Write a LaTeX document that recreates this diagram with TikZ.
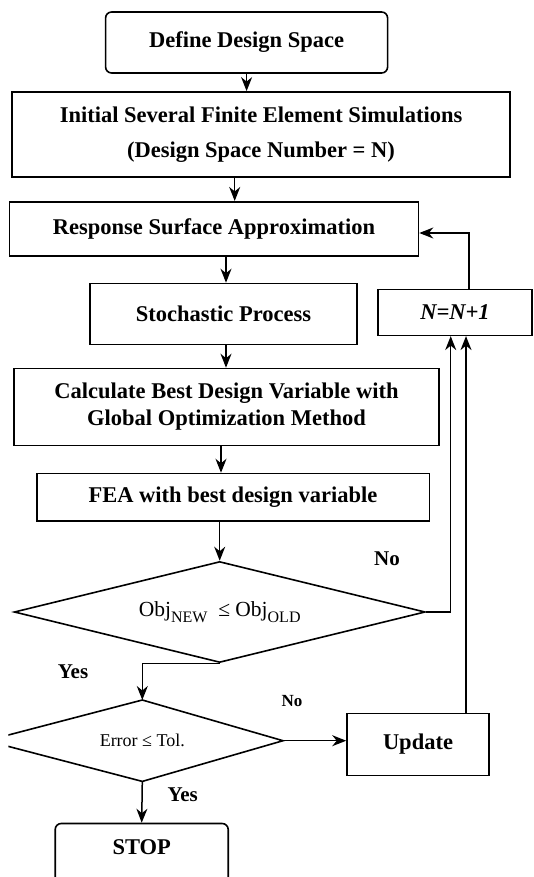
\documentclass[tikz,border=0pt]{standalone}
\usepackage{fontspec}
\setmainfont{Liberation Serif}
\usetikzlibrary{arrows.meta,shapes.geometric}
\newcommand\subtxt[1]{\raisebox{-6pt}{\fontsize{16}{16}\selectfont #1}}
\begin{document}
\begin{tikzpicture}[x=1pt,y=-1pt,
  box/.style={draw,line width=1.6pt,inner sep=0pt,align=center,font=\fontsize{22.5}{27}\selectfont\bfseries},
  rbox/.style={box,rounded corners=6pt},
  dia/.style={diamond,inner sep=0pt,aspect=4},
  arr/.style={line width=1.5pt,-{Stealth[length=14pt,width=11pt,inset=4.5pt]}},
  lab/.style={font=\fontsize{21}{25}\selectfont\bfseries,inner sep=0pt}]
\useasboundingbox (0,0) rectangle (533,877);
% boxes
\node[rbox,minimum width=282pt,minimum height=61pt] (def) at (246.6,42.5) {Define Design Space};
\node[box,minimum width=498pt,minimum height=85pt] (init) at (261,134.4) {Initial Several Finite Element Simulations\\[8pt](Design Space Number = N)};
\node[box,minimum width=409pt,minimum height=54.5pt] (rsa) at (214,229) {Response Surface Approximation};
\node[box,minimum width=267pt,minimum height=61pt] (sto) at (223.5,314) {Stochastic Process};
\node[box,minimum width=154pt,minimum height=46pt,font=\fontsize{22.5}{27}\selectfont\bfseries\itshape] (nn) at (455,312.3) {N=N+1};
\node[box,minimum width=424.5pt,minimum height=77pt] (calc) at (226.5,407) {Calculate Best Design Variable with\\Global Optimization Method};
\node[box,minimum width=392.6pt,minimum height=47.7pt] (fea) at (233,497.4) {FEA with best design variable};
\node[dia,draw,line width=1.6pt,minimum width=411pt,minimum height=101pt,font=\fontsize{21.5}{25}\selectfont] (d1) at (219.7,612) {Obj\subtxt{NEW}\ \ ≤ Obj\subtxt{OLD}};
\node[dia,minimum width=281pt,minimum height=81pt,font=\fontsize{18}{22}\selectfont] (d2) at (142.3,740.7) {Error ≤ Tol.};
\begin{scope}
\clip (8.3,650) rectangle (400,800);
\draw[line width=1.6pt] (d2.north) -- (d2.east) -- (d2.south) -- ([xshift=-15pt]d2.west) -- cycle;
\end{scope}
\node[box,minimum width=142pt,minimum height=62pt] (upd) at (418,744.5) {Update};
\node[rbox,minimum width=173pt,minimum height=110pt,anchor=north] (stop) at (141.7,822.7) {};
\node[font=\fontsize{22.5}{27}\selectfont\bfseries,inner sep=0pt] (stoptxt) at (141.7,847.3) {STOP};
% helper coordinates
\coordinate (cA) at (234.7,0);
\coordinate (cB) at (226,0);
\coordinate (cC) at (221,0);
\coordinate (cD) at (450.7,0);
\coordinate (cE) at (466,0);
\coordinate (cF) at (469,233);
% connectors
\draw[arr] (def.south) -- (def.south |- init.north);
\draw[arr] (init.south -| cA) -- (rsa.north -| cA);
\draw[arr] (rsa.south -| cB) -- (sto.north -| cB);
\draw[arr] (sto.south -| cB) -- (calc.north -| cB);
\draw[arr] (calc.south -| cC) -- (fea.north -| cC);
\draw[arr] (fea.south -| d1.north) -- (d1.north);
\draw[arr] (d1.east) -- (d1.east -| cD) -- (nn.south -| cD);
\draw[arr] (upd.north -| cE) -- (nn.south -| cE);
\draw[arr] (nn.north -| cF) -- (cF) -- (rsa.east |- cF);
\draw[arr] (d1.south) -| (d2.north);
\draw[arr] (d2.east) -- (d2.east -| upd.west);
\draw[arr] (d2.south) -- (stop.north);
% labels
\node[lab] (no1) at (387,559) {No};
\node[lab] (yes1) at (73,672) {Yes};
\node[lab,font=\fontsize{17}{20}\selectfont\bfseries] (no2) at (292,700.8) {No};
\node[lab] (yes2) at (182.7,795) {Yes};
\end{tikzpicture}
\end{document}
